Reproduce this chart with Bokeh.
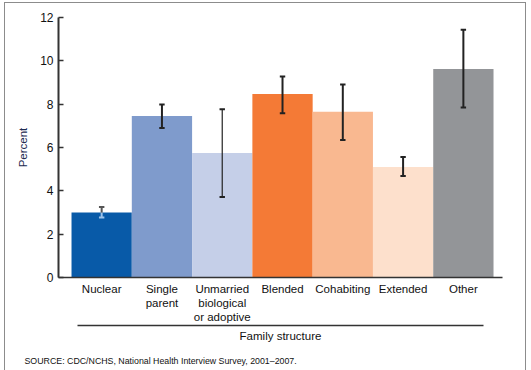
from bokeh.plotting import figure
from bokeh.models import (ColumnDataSource, Range1d, FixedTicker, LinearAxis, Title)
from bokeh.embed import file_html
from bokeh.resources import INLINE

categories = ["Nuclear", "Single\nparent", "Unmarried\nbiological\nor adoptive", "Blended", "Cohabiting", "Extended", "Other"]
values = [3.0, 7.45, 5.75, 8.47, 7.65, 5.1, 9.62]
lower = [2.77, 6.9, 3.71, 7.58, 6.35, 4.69, 7.85]
upper = [3.25, 7.98, 7.76, 9.28, 8.91, 5.56, 11.43]
colors = ["#085aa8", "#7f9bcc", "#c5cfe8", "#f47a36", "#f9b890", "#fde0cc", "#939598"]
y_ticks = [0, 2, 4, 6, 8, 10, 12]

xs = list(range(len(categories)))
FONT = "Liberation Sans"

p = figure(frame_width=444, frame_height=260, min_border_left=53, min_border_right=23,
           min_border_top=14, min_border_bottom=90,
           x_range=Range1d(-0.716, 6.649), y_range=Range1d(0, 12),
           output_backend="svg", toolbar_location=None)
p.styles = {"border": "1px solid #8c8c8c", "margin-left": "4px", "margin-top": "2px"}
p.outline_line_color = None
p.grid.visible = False
p.background_fill_color = "white"

src = ColumnDataSource(dict(x=xs, top=values, lower=lower, upper=upper, color=colors))
p.vbar(x="x", top="top", width=1.0, color="color", source=src, line_color=None)

# error bars
lw = [1.2 if i == 2 else 2 for i in xs]
for i in xs:
    if i == 0:
        p.segment(x0=[xs[i]], y0=[lower[i]], x1=[xs[i]], y1=[values[i]], line_color="#9ec3ea", line_width=2)
        p.segment(x0=[xs[i]], y0=[values[i]], x1=[xs[i]], y1=[upper[i]], line_color="#555555", line_width=2)
        p.segment(x0=[xs[i] - 0.045], y0=[lower[i]], x1=[xs[i] + 0.045], y1=[lower[i]], line_color="#9ec3ea", line_width=2)
        p.segment(x0=[xs[i] - 0.045], y0=[upper[i]], x1=[xs[i] + 0.045], y1=[upper[i]], line_color="#555555", line_width=2)
    else:
        p.segment(x0=[xs[i]], y0=[lower[i]], x1=[xs[i]], y1=[upper[i]], line_color="#222222", line_width=lw[i])
        p.segment(x0=[xs[i] - 0.045, xs[i] - 0.045], y0=[lower[i], upper[i]],
                  x1=[xs[i] + 0.045, xs[i] + 0.045], y1=[lower[i], upper[i]],
                  line_color="#222222", line_width=2)

# y axis
ya = p.yaxis[0]
ya.ticker = FixedTicker(ticks=y_ticks)
ya.minor_tick_line_color = None
ya.major_tick_in = 5
ya.major_tick_out = 0
ya.major_tick_line_width = 1.5
ya.major_tick_line_color = "#333333"
ya.axis_line_width = 2
ya.axis_line_color = "#333333"
ya.major_label_standoff = 5
ya.major_label_text_font = FONT
ya.major_label_text_font_size = "12px"
ya.major_label_text_color = "#111111"
ya.axis_label = "Percent"
ya.axis_label_text_font = FONT
ya.axis_label_text_font_size = "11.5px"
ya.axis_label_text_font_style = "normal"
ya.axis_label_text_color = "#1c2a50"
ya.axis_label_standoff = 8

# x axis
xa = p.xaxis[0]
xa.ticker = FixedTicker(ticks=xs)
xa.major_label_overrides = {i: c for i, c in zip(xs, categories)}
xa.major_tick_line_color = None
xa.major_tick_out = 0
xa.major_tick_in = 0
xa.minor_tick_line_color = None
xa.axis_line_width = 1.5
xa.axis_line_color = "#333333"
xa.major_label_standoff = 5
xa.major_label_text_font = FONT
xa.major_label_text_font_size = "11.5px"
xa.major_label_text_color = "#111111"
xa.major_label_text_line_height = 1.17

xa2 = LinearAxis(ticker=FixedTicker(ticks=[]), bounds=(-0.40, 6.33))
xa2.axis_line_width = 1.5
xa2.axis_line_color = "#333333"
xa2.major_tick_line_color = None
xa2.major_tick_out = 0
xa2.major_tick_in = 0
xa2.minor_tick_line_color = None
xa2.axis_label = "Family structure"
xa2.axis_label_text_font = FONT
xa2.axis_label_text_font_size = "11.5px"
xa2.axis_label_text_font_style = "normal"
xa2.axis_label_text_color = "#111111"
xa2.axis_label_standoff = 4
p.add_layout(xa2, "below")

src_title = Title(text="SOURCE: CDC/NCHS, National Health Interview Survey, 2001\u20132007.",
                  align="left", text_font=FONT, text_font_size="8.8px", text_font_style="normal",
                  text_color="#111111", offset=-34, standoff=19)
p.add_layout(src_title, "below")

open("out.html", "w").write(file_html(p, INLINE))
